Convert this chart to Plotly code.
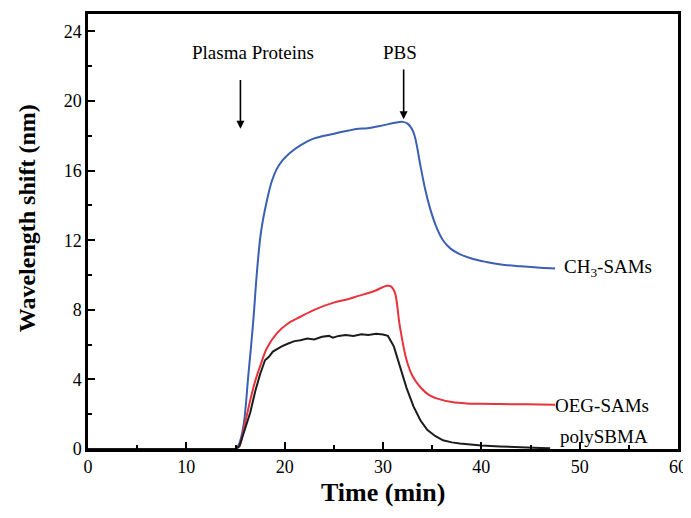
import plotly.graph_objects as go

# ---- data ----
t_ch3 = [0, 5, 10, 15, 15.3, 15.8, 16.3, 16.8, 17.2, 17.6, 18.2, 18.7, 19.2, 19.8, 20.5, 21.6, 23,
         24.9, 26.5, 27.5, 28.4, 30, 31.2, 32.0, 32.5, 33.1, 33.8, 34.3, 34.8, 35.4, 36.1, 36.9,
         37.8, 39, 40.5, 42, 44, 46, 47.5]
y_ch3 = [0, 0, 0, 0, 0.2, 1.3, 4.2, 7.3, 10.3, 12.5, 14.3, 15.4, 16.1, 16.6, 17.0, 17.45, 17.85,
         18.1, 18.3, 18.4, 18.43, 18.6, 18.75, 18.8, 18.7, 18.2, 16.3, 14.9, 13.8, 12.8, 12.0, 11.5,
         11.2, 10.95, 10.75, 10.6, 10.5, 10.42, 10.38]

t_oeg = [0, 5, 10, 15, 15.4, 15.9, 16.5, 17.0, 17.5, 18.2, 19.2, 20.3, 21.6, 23, 24.9, 26.5, 27.5,
         29, 30.4, 30.8, 31.2, 31.7, 32.4, 33.0, 33.8, 34.7, 35.8, 37, 38.5, 40, 42, 44, 46, 47.5]
y_oeg = [0, 0, 0, 0, 0.2, 1.3, 2.8, 3.9, 4.75, 5.8, 6.65, 7.2, 7.6, 8.0, 8.4, 8.62, 8.8,
         9.05, 9.38, 9.35, 9.0, 7.1, 5.1, 4.2, 3.55, 3.1, 2.85, 2.7, 2.62, 2.6, 2.58, 2.57, 2.56, 2.55]

t_sb = [0, 5, 10, 15, 15.4, 16, 16.5, 17, 17.5, 18, 18.4, 18.8, 19.2, 19.7, 20.3, 21, 21.6, 22.3,
        23, 23.8, 24.5, 24.9, 25.5, 26.2, 27, 27.8, 28.5, 29.3, 30, 30.5, 31.1, 31.7, 32.4, 33.1,
        33.8, 34.5, 35.3, 36.1, 37, 37.8, 38.8, 40, 41.9, 43.5, 45, 46, 47]
y_sb = [0, 0, 0, 0, 0.15, 1.2, 2.1, 3.3, 4.3, 5.1, 5.3, 5.6, 5.75, 5.9, 6.05, 6.2, 6.25, 6.35,
        6.3, 6.45, 6.5, 6.4, 6.5, 6.55, 6.5, 6.6, 6.55, 6.62, 6.58, 6.5, 5.9, 4.75, 3.5, 2.45,
        1.65, 1.1, 0.75, 0.5, 0.38, 0.32, 0.25, 0.2, 0.15, 0.1, 0.08, 0.06, 0.05]

series_names = ["CH<sub>3</sub>-SAMs", "OEG-SAMs", "polySBMA"]
label_x = [48.2, 47.3, 47.8]
label_y = [10.4, 2.5, 0.7]
colors = ["#3b5fb2", "#e8333d", "#1c1c1c"]

x_ticks = [0, 10, 20, 30, 40, 50, 60]
y_ticks = [0, 4, 8, 12, 16, 20, 24]

FONT = "Liberation Serif"

fig = go.Figure()
for t, y, c, shape in [(t_ch3, y_ch3, colors[0], "spline"),
                       (t_oeg, y_oeg, colors[1], "spline"),
                       (t_sb, y_sb, colors[2], "linear")]:
    fig.add_trace(go.Scatter(x=t, y=y, mode="lines", line=dict(color=c, width=2, shape=shape),
                             showlegend=False, hoverinfo="skip"))

annotations = []
for name, lx, ly in zip(series_names, label_x, label_y):
    annotations.append(dict(x=lx, y=ly, text=name, showarrow=False, xanchor="left",
                            yanchor="middle", font=dict(family=FONT, size=19, color="black")))

# event annotations
annotations += [
    dict(x=16.8, y=22.8, text="Plasma Proteins", showarrow=False,
         font=dict(family=FONT, size=19, color="black")),
    dict(x=15.5, y=18.4, ax=15.5, ay=21.3, axref="x", ayref="y", text="", showarrow=True,
         arrowhead=2, arrowsize=1, arrowwidth=1.6, arrowcolor="black"),
    dict(x=31.7, y=22.8, text="PBS", showarrow=False,
         font=dict(family=FONT, size=19, color="black")),
    dict(x=32.1, y=18.95, ax=32.1, ay=21.9, axref="x", ayref="y", text="", showarrow=True,
         arrowhead=2, arrowsize=1, arrowwidth=1.6, arrowcolor="black"),
    # axis titles
    dict(xref="paper", yref="paper", x=0.5, y=-0.099, text="<b>Time (min)</b>", showarrow=False,
         xanchor="center", yanchor="middle", font=dict(family=FONT, size=26, color="black")),
    dict(xref="paper", yref="paper", x=-0.102, y=0.53, text="<b>Wavelength shift (nm)</b>",
         showarrow=False, textangle=-90, xanchor="center", yanchor="middle",
         font=dict(family=FONT, size=24, color="black")),
]

axis_common = dict(showline=True, linecolor="black", linewidth=2.5, mirror=True,
                   ticks="inside", tickcolor="black", tickwidth=1.5, ticklen=7,
                   showgrid=False, zeroline=False, automargin=False,
                   tickfont=dict(family=FONT, size=18, color="black"))

fig.update_xaxes(range=[0, 60], tickvals=x_ticks,
                 minor=dict(dtick=5, ticks="inside", ticklen=4, tickcolor="black", tickwidth=1.5),
                 **axis_common)
fig.update_yaxes(range=[0, 25], tickvals=y_ticks,
                 minor=dict(dtick=2, ticks="inside", ticklen=4, tickcolor="black", tickwidth=1.5),
                 **axis_common)

# page body has an 8px margin, so the figure is sized to fill the window from there
fig.update_layout(width=683, height=510, margin=dict(l=80, r=13, t=6, b=69),
                  plot_bgcolor="white", paper_bgcolor="white", annotations=annotations)

fig.write_html("out.html")
